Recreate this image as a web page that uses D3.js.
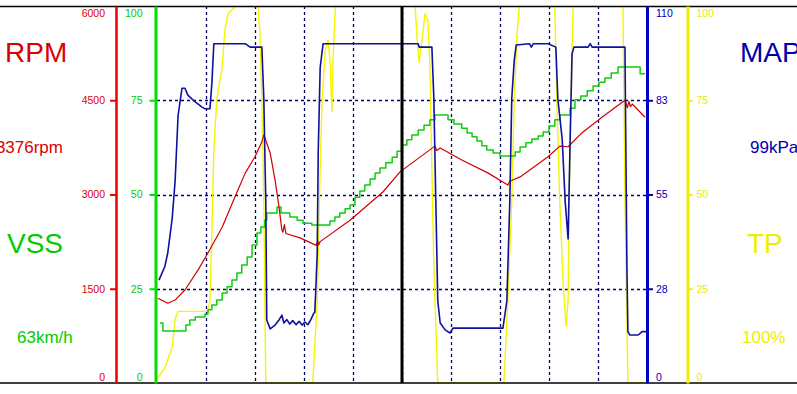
<!DOCTYPE html>
<html>
<head>
<meta charset="utf-8">
<script src="https://d3js.org/d3.v7.min.js"></script>
<style>
  body { margin: 0; background: #fff; }
  svg text { font-family: Arial, "Liberation Sans", sans-serif; }
</style>
</head>
<body>
<div id="chart"></div>
<script>
// logged channels, [time (0-100), value]
var rpmData = [[0.2,1350],[2.2,1270],[3.7,1320],[5.7,1480],[8.4,1800],[10.4,2070],[13.3,2480],[15.9,2960],
  [18.0,3340],[20.0,3600],[21.4,3840],[21.8,3950],[23.1,3660],[24.1,3230],[24.9,2800],[25.5,2430],[25.7,2400],
  [26.0,2520],[26.3,2380],[29.2,2310],[32.5,2190],[32.8,2260],[33.0,2200],[33.3,2250],[39.4,2590],[46.1,3040],
  [49.6,3360],[56.7,3770],[57.1,3700],[57.8,3740],[62.2,3550],[67.6,3340],[71.6,3150],[72.0,3210],[74.1,3280],
  [79.8,3600],[82.2,3770],[83.9,3760],[86.7,3980],[90.8,4230],[95.5,4500],[96.0,4380],[96.3,4480],[96.6,4400],
  [97.0,4440],[99.6,4230]];

var vssData = [[0.6,15.9],[1.2,13.8],[5.9,15.4],[6.7,16.7],[7.8,17.5],[9.8,18.3],[10.4,19.4],[11.2,20.7],
  [12.2,22.0],[13.3,23.9],[14.3,25.5],[15.3,27.3],[16.3,29.2],[17.3,31.3],[18.4,33.4],[19.4,36.6],[20.4,39.8],
  [21.2,41.4],[22.0,43.2],[22.4,45.1],[24.5,46.7],[25.3,45.1],[27.1,44.0],[28.6,43.2],[29.8,42.4],[31.6,41.9],
  [35.3,43.0],[36.3,44.0],[37.3,45.1],[38.4,46.2],[39.4,47.2],[40.4,49.3],[41.4,50.9],[42.4,52.5],[43.5,54.1],
  [44.5,55.7],[45.5,57.0],[46.7,58.4],[48.0,59.9],[49.0,61.5],[50.0,63.1],[51.0,64.5],[52.0,65.8],[53.3,67.1],
  [54.5,68.4],[55.7,69.8],[56.7,71.1],[59.4,69.8],[60.6,68.7],[62.2,67.6],[63.3,66.3],[64.3,65.3],[65.3,64.2],
  [66.3,62.9],[67.3,61.8],[68.6,61.0],[70.0,60.2],[73.1,61.3],[74.1,62.6],[75.3,63.7],[76.5,64.7],[77.8,65.5],
  [78.8,66.6],[80.0,68.2],[81.2,69.8],[82.2,71.1],[84.3,72.9],[85.3,75.1],[86.5,76.1],[87.8,77.5],[89.0,78.8],
  [90.2,79.8],[91.4,80.9],[92.7,82.2],[94.1,83.8],[98.6,82.0],[99.6,82.0]];

var mapData = [[0.4,30],[1.6,34],[2.2,38],[3.1,48],[3.7,59],[4.3,78],[5.1,86],[5.7,86],[6.3,84],[7.8,82],
  [9.2,80.5],[9.8,80],[10.8,80],[11.2,87.5],[11.6,99],[18.0,99],[19.0,98],[21.4,98],[21.8,83],[22.2,53],
  [22.4,18.4],[23.1,15.8],[24.1,16.9],[24.9,18.4],[25.5,19.8],[25.9,17.5],[26.5,18.5],[27.1,17.2],[27.7,18.2],
  [28.4,17.0],[29.0,18.0],[29.6,16.9],[30.2,17.8],[30.8,17.0],[31.4,18.5],[32.0,20.4],[32.2,20.6],[32.4,27],
  [32.7,38],[32.9,67],[33.3,92],[33.9,99],[53.3,99],[53.5,98],[56.1,98],[56.5,83],[56.9,53],[57.3,24],
  [57.8,17.5],[58.8,15.5],[59.8,14.6],[60.4,16],[70.6,16],[71.4,24],[72.0,53],[72.4,83],[72.9,94],[73.3,98.6],
  [76.0,99],[76.4,98],[76.8,99],[79.8,99],[81.4,98],[81.8,83],[82.7,71],[83.3,53],[83.9,42],[84.3,70],
  [84.7,96],[85.1,98],[88.0,98],[88.4,99],[88.8,98],[95.5,98],[95.9,34],[96.1,15],[96.5,14],[98.2,14],
  [99.0,15],[100,15]];

var tpData = [[0,1],[1.6,4],[3.1,9.5],[3.7,17],[4.3,19],[10.4,19],[10.8,22],[11.2,40],[11.6,62],[12.2,75],
  [13.3,84],[13.9,94],[14.5,98],[15.9,99.7],[16.9,110],[20.2,110],[20.6,99.7],[21.0,93],[21.4,75],[21.6,62],
  [21.8,48],[22.2,0],[31.8,0],[32.7,22],[33.3,57],[33.7,75],[34.3,88],[34.9,91],[35.3,86],[35.7,72],[35.9,85],
  [36.3,97],[36.9,110],[52.0,110],[52.7,99.5],[53.1,91],[53.5,85],[54.1,91],[54.7,98],[55.3,96],[55.7,84],
  [56.1,57],[56.5,31],[57.3,0],[70.8,0],[71.6,22],[72.4,48],[72.9,75],[73.5,93],[73.9,99],[74.5,110],
  [80.5,110],[81.2,99],[81.6,75],[82.2,48],[82.9,26],[83.5,15],[83.9,22],[84.1,48],[84.5,75],[84.9,99],
  [85.3,110],[94.5,110],[95.1,99],[95.5,50],[96.1,0],[100,0]];

var rpmTicks = [0, 1500, 3000, 4500, 6000];
var vssTicks = [0, 25, 50, 75, 100];
var mapTicks = [0, 27.5, 55, 82.5, 110];
var mapTickLabels = ["0", "28", "55", "83", "110"];
var tpTicks = [0, 25, 50, 75, 100];
var gridTimes = [10, 20, 30, 40, 50, 60, 70, 80, 90];
var gridLevels = [25, 50, 75];
var cursorTime = 50;

var W = 797, H = 394;
var plot = { left: 157, right: 647, top: 6, bottom: 383 };

var red = "#dd0000", green = "#00cc00", blue = "#0000aa";

var svg = d3.select("#chart")
  .append("svg")
    .attr("width", W)
    .attr("height", H);

var x = d3.scaleLinear().domain([0, 100]).range([plot.left, plot.right]);
var yRpm = d3.scaleLinear().domain([0, 6000]).range([plot.bottom, plot.top]);
var yVss = d3.scaleLinear().domain([0, 100]).range([plot.bottom, plot.top]);
var yMap = d3.scaleLinear().domain([0, 110]).range([plot.bottom, plot.top]);
var yTp = d3.scaleLinear().domain([0, 100]).range([plot.bottom, plot.top]);

svg.append("clipPath").attr("id", "clip")
  .append("rect")
    .attr("x", plot.left).attr("y", plot.top)
    .attr("width", plot.right - plot.left)
    .attr("height", plot.bottom - plot.top);

// dashed grid
svg.append("g").selectAll("line")
  .data(gridTimes)
  .enter().append("line")
    .attr("x1", function(d) { return Math.round(x(d)) + 0.5; })
    .attr("x2", function(d) { return Math.round(x(d)) + 0.5; })
    .attr("y1", plot.top)
    .attr("y2", plot.bottom)
    .attr("stroke", "#000060")
    .attr("stroke-width", 1.3)
    .attr("stroke-dasharray", "3,3");

svg.append("g").selectAll("line")
  .data(gridLevels)
  .enter().append("line")
    .attr("x1", plot.left)
    .attr("x2", plot.right)
    .attr("y1", function(d) { return Math.round(yVss(d)) + 0.5; })
    .attr("y2", function(d) { return Math.round(yVss(d)) + 0.5; })
    .attr("stroke", "#000060")
    .attr("stroke-width", 1.3)
    .attr("stroke-dasharray", "3,3");

// traces
var lines = svg.append("g").attr("clip-path", "url(#clip)");

function trace(data, y, color, width, curve) {
  var line = d3.line()
    .x(function(d) { return x(d[0]); })
    .y(function(d) { return y(d[1]); })
    .curve(curve || d3.curveLinear);
  lines.append("path")
    .datum(data)
    .attr("fill", "none")
    .attr("stroke", color)
    .attr("stroke-width", width)
    .attr("stroke-linejoin", "round")
    .attr("d", line);
}

trace(tpData, yTp, "#f5f500", 1.4);
trace(vssData, yVss, "#11cc11", 1.5, d3.curveStepAfter);
trace(rpmData, yRpm, "#d00000", 1.2);
trace(mapData, yMap, "#1010a0", 1.6);

// cursor
svg.append("line")
  .attr("x1", x(cursorTime)).attr("x2", x(cursorTime))
  .attr("y1", plot.top).attr("y2", plot.bottom)
  .attr("stroke", "#000")
  .attr("stroke-width", 3);

// top / bottom borders
svg.append("line").attr("x1", 0).attr("x2", W).attr("y1", 6.5).attr("y2", 6.5)
  .attr("stroke", "#000").attr("stroke-width", 1.5);
svg.append("line").attr("x1", 0).attr("x2", W).attr("y1", 383).attr("y2", 383)
  .attr("stroke", "#000").attr("stroke-width", 1.5);

// axes
function styleAxis(g, color, width, textColor) {
  g.select(".domain").attr("stroke", color).attr("stroke-width", width);
  g.selectAll(".tick line").attr("stroke", color).attr("stroke-width", 2);
  g.selectAll(".tick text").attr("fill", textColor || color).style("font-size", "10.5px");
  var n = g.selectAll(".tick").size();
  g.selectAll(".tick").each(function(d, i) {
    if (i === 0 || i === n - 1) {
      d3.select(this).select("line").remove();
      d3.select(this).select("text").attr("transform", "translate(0," + (i === 0 ? -6 : 7.5) + ")");
    }
  });
}

svg.append("g")
  .attr("transform", "translate(116,0)")
  .call(d3.axisLeft(yRpm).tickValues(rpmTicks).tickSize(6).tickSizeOuter(0).tickPadding(5)
    .tickFormat(d3.format("d")))
  .call(styleAxis, "#ee0000", 2.5, red);

svg.append("g")
  .attr("transform", "translate(155.5,0)")
  .call(d3.axisLeft(yVss).tickValues(vssTicks).tickSize(6).tickSizeOuter(0).tickPadding(7))
  .call(styleAxis, "#00dd00", 3, green);

svg.append("g")
  .attr("transform", "translate(647,0)")
  .call(d3.axisRight(yMap).tickValues(mapTicks).tickSize(6).tickSizeOuter(0).tickPadding(3)
    .tickFormat(function(d, i) { return mapTickLabels[i]; }))
  .call(styleAxis, "#0000c0", 3, blue);

svg.append("g")
  .attr("transform", "translate(687.5,0)")
  .call(d3.axisRight(yTp).tickValues(tpTicks).tickSize(5).tickSizeOuter(0).tickPadding(4))
  .call(styleAxis, "#f0f000", 3, "#eaea00");

// channel names and cursor readouts
function label(txt, xp, yp, size, color, anchor) {
  svg.append("text")
    .attr("x", xp).attr("y", yp)
    .attr("fill", color)
    .attr("text-anchor", anchor || "start")
    .style("font-size", size + "px")
    .text(txt);
}

label("RPM", 5, 62, 28, red);
label("3376rpm", 63, 153, 17, red, "end");
label("VSS", 7, 253, 28, green);
label("63km/h", 17, 343, 17, green);
label("MAP", 740, 62, 28, blue);
label("99kPa", 750, 153, 17, blue);
label("TP", 747, 253, 28, "#eeee00");
label("100%", 742, 343, 17, "#eeee00");
</script>
</body>
</html>
